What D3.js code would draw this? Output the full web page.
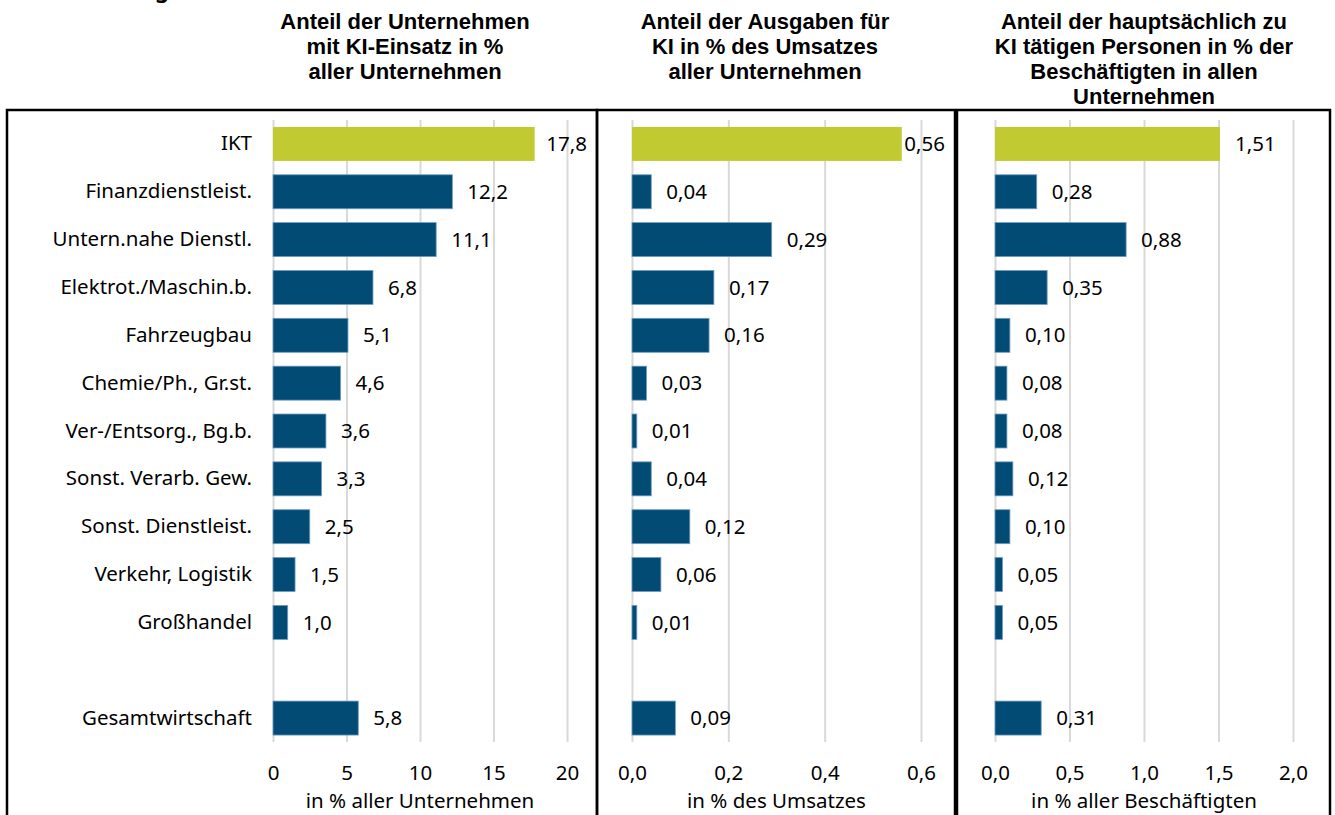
<!DOCTYPE html>
<html><head><meta charset="utf-8">
<script src="https://cdn.jsdelivr.net/npm/d3@7"></script>
<style>
body{margin:0;background:#fff;}
text{font-family:"Noto Sans",sans-serif;fill:#000;}
</style></head>
<body><svg id="c" width="1335" height="815"></svg>
<script>
const categories = ["IKT","Finanzdienstleist.","Untern.nahe Dienstl.","Elektrot./Maschin.b.","Fahrzeugbau","Chemie/Ph., Gr.st.","Ver-/Entsorg., Bg.b.","Sonst. Verarb. Gew.","Sonst. Dienstleist.","Verkehr, Logistik","Großhandel","","Gesamtwirtschaft"];
const shareFirms = [17.8,12.2,11.1,6.8,5.1,4.6,3.6,3.3,2.5,1.5,1.0,null,5.8];
const shareSpend = [0.56,0.04,0.29,0.17,0.16,0.03,0.01,0.04,0.12,0.06,0.01,null,0.09];
const shareStaff = [1.51,0.28,0.88,0.35,0.10,0.08,0.08,0.12,0.10,0.05,0.05,null,0.31];
const ticks1 = [0,5,10,15,20];
const ticks2 = [0,0.2,0.4,0.6];
const ticks3 = [0,0.5,1.0,1.5,2.0];
const titles = [
  ["Anteil der Unternehmen","mit KI-Einsatz in %","aller Unternehmen"],
  ["Anteil der Ausgaben für","KI in % des Umsatzes","aller Unternehmen"],
  ["Anteil der hauptsächlich zu","KI tätigen Personen in % der","Beschäftigten in allen","Unternehmen"]
];
const axisTitles = ["in % aller Unternehmen","in % des Umsatzes","in % aller Beschäftigten"];
const highlight = "IKT";

const svg = d3.select("#c");
const fmtDe = (d, dec) => d.toFixed(dec).replace(".", ",");
const FS = "20.5px";

const y = d3.scaleBand().domain(d3.range(categories.length)).range([120, 742]).paddingInner(0.29).paddingOuter(0.145);

const panels = [
  {vals: shareFirms, ticks: ticks1, domain:[0,20], range:[273,567], tdec:0, vdec:1, box:[7,597], tx:405},
  {vals: shareSpend, ticks: ticks2, domain:[0,0.6], range:[632,921], tdec:1, vdec:2, box:[597,955], tx:765},
  {vals: shareStaff, ticks: ticks3, domain:[0,2], range:[995,1293], tdec:1, vdec:2, box:[957,1330], tx:1144}
];

// partial cut-off heading (as in the source image)
svg.append("text").attr("x",162).attr("y",-2).attr("text-anchor","middle")
  .style("font-weight","bold").style("font-size","22px").text("g");

panels.forEach((p, i) => {
  const x = d3.scaleLinear().domain(p.domain).range(p.range);
  svg.append("rect").attr("x",p.box[0]).attr("y",110).attr("width",p.box[1]-p.box[0]).attr("height",720)
    .attr("fill","none").attr("stroke","#000").attr("stroke-width",2.5);
  const grid = svg.append("g").attr("transform","translate(0,742)")
    .call(d3.axisBottom(x).tickValues(p.ticks).tickSize(-622).tickFormat(""));
  grid.select(".domain").remove();
  grid.selectAll("line").attr("stroke","#d9d9d9").attr("stroke-width",2);
  const ax = svg.append("g").attr("transform","translate(0,742)")
    .call(d3.axisBottom(x).tickValues(p.ticks).tickSize(0).tickPadding(23).tickFormat(d => fmtDe(d, p.tdec)));
  ax.select(".domain").remove();
  ax.selectAll("text").style("font-size",FS).style("font-family","Noto Sans").attr("fill","#000");
  svg.append("text").attr("x",(p.range[0]+p.range[1])/2).attr("y",808).attr("text-anchor","middle")
    .style("font-size",FS).text(axisTitles[i]);
  const data = p.vals.map((v,j)=>({v, j, c:categories[j]})).filter(d=>d.v!==null);
  svg.append("g").selectAll("rect").data(data).join("rect")
    .attr("x",x(0)).attr("y",d=>y(d.j)).attr("height",y.bandwidth())
    .attr("width",d=>x(d.v)-x(0))
    .attr("fill",d=>d.c===highlight?"#c2ca31":"#024b74")
    .attr("stroke",d=>d.c===highlight?"none":"#6f9cc0").attr("stroke-width",0.8);
  svg.append("g").selectAll("text").data(data).join("text")
    .attr("x",d=>x(d.v)+15).attr("y",d=>y(d.j)+y.bandwidth()/2).attr("dy","0.35em")
    .style("font-size",FS).text(d=>fmtDe(d.v,p.vdec))
    .each(function(){
      const bb = this.getBBox();
      const lim = p.box[1]-10;
      if (bb.x+bb.width > lim) d3.select(this).attr("x", lim-bb.width);
    });
  titles[i].forEach((line,k)=>{
    svg.append("text").attr("text-anchor","middle")
      .style("font-family","'Liberation Sans', Arial, sans-serif")
      .style("font-weight","bold").style("font-size","22px")
      .attr("x",p.tx).attr("y",29+k*25).text(line);
  });
});

const cy = svg.append("g").attr("transform","translate(273,0)")
  .call(d3.axisLeft(y).tickSize(0).tickPadding(21).tickFormat(j=>categories[j]));
cy.select(".domain").remove();
cy.selectAll("text").style("font-size",FS).style("font-family","Noto Sans").attr("fill","#000");
</script></body></html>
